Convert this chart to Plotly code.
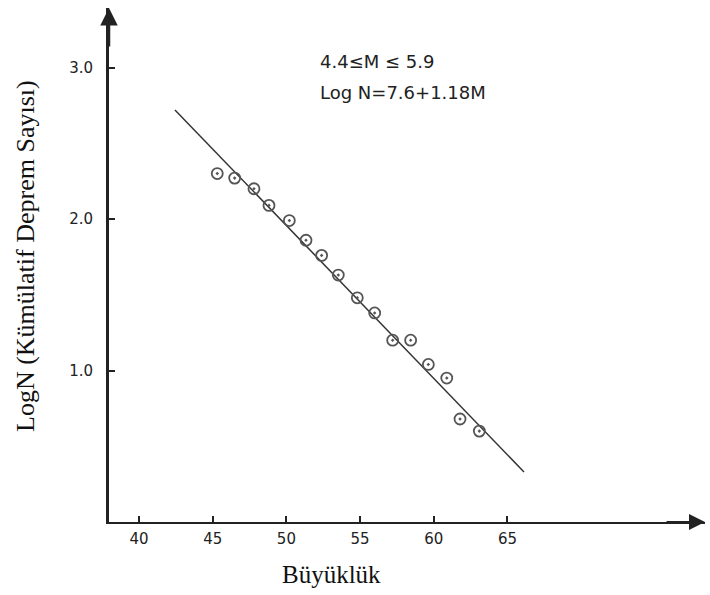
import plotly.graph_objects as go

# Data (against the axes as drawn)
magnitude = [45.31, 46.49, 47.80, 48.82, 50.20, 51.33, 52.39, 53.52,
             54.81, 55.99, 57.21, 58.43, 59.63, 60.88, 61.78, 63.09]
log_n = [2.30, 2.27, 2.20, 2.09, 1.99, 1.86, 1.76, 1.63,
         1.48, 1.38, 1.20, 1.20, 1.04, 0.95, 0.68, 0.60]
fit_x = [42.44, 66.12]
fit_y = [2.72, 0.33]
x_ticks = [40, 45, 50, 55, 60, 65]
y_ticks = [1.0, 2.0, 3.0]
label_range = "4.4≤M ≤ 5.9"
label_eq = "Log N=7.6+1.18M"

ML, MR, MT, MB = 109, 5, 8, 73
X_RANGE = [37.965, 78.40]
Y_RANGE = [0.0, 3.393]
AX = "#222222"

fig = go.Figure()
fig.add_trace(go.Scatter(x=fit_x, y=fit_y, mode="lines",
                         line=dict(color="#333333", width=1.5),
                         showlegend=False, hoverinfo="skip"))
fig.add_trace(go.Scatter(x=magnitude, y=log_n, mode="markers",
                         marker=dict(symbol="circle-open-dot", size=11,
                                     color="#555555", line=dict(width=1.8)),
                         showlegend=False))

fig.update_layout(
    width=710, height=595,
    margin=dict(l=ML, r=MR, t=MT, b=MB),
    paper_bgcolor="white", plot_bgcolor="white",
    xaxis=dict(range=X_RANGE, tickvals=x_ticks, ticks="inside", ticklen=6,
               tickwidth=2, tickcolor=AX, showline=True, linewidth=2,
               linecolor=AX, showgrid=False, zeroline=False,
               tickfont=dict(family="DejaVu Sans", size=15, color="#222"),
               ticklabelstandoff=2),
    yaxis=dict(range=Y_RANGE, tickvals=y_ticks, tickformat=".1f",
               ticks="inside", ticklen=6, tickwidth=2, tickcolor=AX,
               showline=True, linewidth=3, linecolor=AX, showgrid=False,
               zeroline=False,
               tickfont=dict(family="DejaVu Sans", size=15, color="#222"),
               ticklabelstandoff=10),
    font=dict(family="DejaVu Sans", color="#222"),
)

# arrow heads on the axes
fig.add_annotation(x=X_RANGE[0], y=Y_RANGE[1], xref="x", yref="y", text="",
                   showarrow=True, ax=0, ay=40, arrowhead=2, arrowsize=1.4,
                   arrowwidth=2.5, arrowcolor=AX)
fig.add_annotation(x=X_RANGE[1], y=Y_RANGE[0], xref="x", yref="y", text="",
                   showarrow=True, ax=-40, ay=0, arrowhead=2, arrowsize=1.6,
                   arrowwidth=2, arrowcolor=AX)

# equation labels
fig.add_annotation(x=52.14, y=3.043, xref="x", yref="y", text=label_range,
                   showarrow=False, xanchor="left", yanchor="middle",
                   font=dict(family="DejaVu Sans", size=18, color="#222"))
fig.add_annotation(x=52.14, y=2.838, xref="x", yref="y", text=label_eq,
                   showarrow=False, xanchor="left", yanchor="middle",
                   font=dict(family="DejaVu Sans", size=18, color="#222"))

# axis titles (placed by pixel centre, converted to paper coords below)
fig.add_annotation(x=26, y=256, xref="paper", yref="paper", text="LogN (Kümülatif Deprem Sayısı)",
                   showarrow=False, textangle=-90, xanchor="center", yanchor="middle",
                   font=dict(family="Liberation Serif, Times New Roman", size=26, color="#111"))
fig.add_annotation(x=331, y=574, xref="paper", yref="paper", text="Büyüklük",
                   showarrow=False, xanchor="center", yanchor="middle",
                   font=dict(family="Liberation Serif, Times New Roman", size=25, color="#111"))

pw = 710 - ML - MR
ph = 595 - MT - MB
for a in fig.layout.annotations[4:]:
    a.x = (a.x - ML) / pw
    a.y = (595 - MB - a.y) / ph

fig.write_html("out.html")
